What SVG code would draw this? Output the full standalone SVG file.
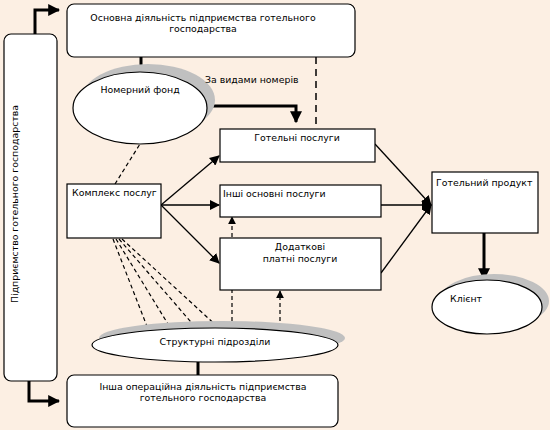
<svg xmlns="http://www.w3.org/2000/svg" width="550" height="430" viewBox="0 0 550 430">
<defs>
<marker id="ah" viewBox="0 0 10 10" refX="9" refY="5" markerWidth="10" markerHeight="10" markerUnits="userSpaceOnUse" orient="auto">
<path d="M0,0 L10,5 L0,10 z" fill="#000"/>
</marker>
<marker id="ahb" viewBox="0 0 10 10" refX="9" refY="5" markerWidth="12" markerHeight="12" markerUnits="userSpaceOnUse" orient="auto">
<path d="M0,0 L10,5 L0,10 z" fill="#000"/>
</marker>
<marker id="ahs" viewBox="0 0 10 10" refX="9" refY="5" markerWidth="8" markerHeight="9" markerUnits="userSpaceOnUse" orient="auto">
<path d="M0,0 L10,5 L0,10 z" fill="#000"/>
</marker>
</defs>
<style>
.box{fill:#fff;stroke:#000;stroke-width:1.2}
.sh{fill:#c0c0c0}
.t{font-family:"DejaVu Sans",Verdana,sans-serif;font-size:9.4px;fill:#000}
.c{text-anchor:middle}
.thin{stroke:#000;stroke-width:1.3;fill:none}
.thick{stroke:#000;stroke-width:3;fill:none}
.dash{stroke:#000;stroke-width:1.2;fill:none;stroke-dasharray:4,3}
.dashb{stroke:#000;stroke-width:1.5;fill:none;stroke-dasharray:7,5}
</style>
<rect x="0" y="0" width="550" height="430" fill="#fcefe3"/>

<g id="connectors">
<path class="thick" d="M35,34 V10 H59" marker-end="url(#ahb)"/>
<path class="thick" d="M29,381 V401 H59" marker-end="url(#ahb)"/>
<line class="thick" x1="141" y1="57" x2="141" y2="70"/>
<line class="dashb" x1="316" y1="57" x2="316" y2="129"/>
<path class="thick" d="M207,106 H296 V122" marker-end="url(#ahb)"/>
<line class="dash" x1="115" y1="184" x2="140" y2="144"/>
<line class="thin" x1="161" y1="205" x2="219" y2="156" marker-end="url(#ah)"/>
<line class="thin" x1="161" y1="205" x2="219" y2="205" marker-end="url(#ah)"/>
<line class="thin" x1="161" y1="205" x2="219" y2="263" marker-end="url(#ah)"/>
<line class="dash" x1="113" y1="239" x2="148" y2="329"/>
<line class="dash" x1="116" y1="239" x2="171" y2="329"/>
<line class="dash" x1="119" y1="239" x2="197" y2="329"/>
<line class="dash" x1="122" y1="239" x2="220" y2="329"/>
<line class="dash" x1="232" y1="328" x2="232" y2="217" marker-end="url(#ahs)"/>
<line class="dash" x1="280" y1="328" x2="280" y2="291" marker-end="url(#ahs)"/>
<line class="thick" x1="198" y1="362" x2="198" y2="375"/>
<line class="thin" x1="375" y1="144" x2="431" y2="205" marker-end="url(#ah)"/>
<line class="thin" x1="381" y1="205" x2="431" y2="205" marker-end="url(#ah)"/>
<line class="thin" x1="381" y1="273" x2="431" y2="205" marker-end="url(#ah)"/>
<line class="thick" x1="484" y1="233" x2="484" y2="279" marker-end="url(#ahb)"/>
</g>

<g id="n-main">
<rect class="box" x="67" y="4" width="288" height="53" rx="7"/>
<text class="t c" x="203" y="21">Основна діяльність підприємства готельного</text>
<text class="t c" x="203" y="32">господарства</text>
</g>

<g id="n-enterprise">
<rect class="box" x="4" y="34" width="53" height="347" rx="7"/>
<text class="t c" transform="translate(18,204) rotate(-90)">Підприємство готельного господарства</text>
</g>

<g id="n-rooms">
<ellipse class="sh" cx="148" cy="100" rx="67" ry="36"/>
<ellipse class="box" cx="140" cy="108" rx="67" ry="36"/>
<text class="t c" x="140" y="93">Номерний фонд</text>
</g>

<text class="t" x="205" y="83">За видами номерів</text>

<g id="n-hotel-services">
<rect class="box" x="220" y="129" width="155" height="33"/>
<text class="t c" x="297" y="141">Готельні послуги</text>
</g>

<g id="n-other-services">
<rect class="box" x="220" y="185" width="161" height="32"/>
<text class="t" x="223" y="197">Інші основні послуги</text>
</g>

<g id="n-extra-services">
<rect class="box" x="220" y="238" width="161" height="52"/>
<text class="t c" x="300" y="250">Додаткові</text>
<text class="t c" x="300" y="262">платні послуги</text>
</g>

<g id="n-complex">
<rect class="box" x="67" y="184" width="94" height="54"/>
<text class="t" x="72" y="196">Комплекс послуг</text>
</g>

<g id="n-product">
<rect class="box" x="432" y="172" width="106" height="61"/>
<text class="t" x="436" y="186">Готельний продукт</text>
</g>

<g id="n-client">
<ellipse class="sh" cx="494" cy="301" rx="55" ry="27"/>
<ellipse class="box" cx="487" cy="307" rx="55" ry="27"/>
<text class="t" x="450" y="302">Клієнт</text>
</g>

<g id="n-units">
<ellipse class="sh" cx="222" cy="338" rx="123" ry="17"/>
<ellipse class="box" cx="215" cy="345" rx="123" ry="17"/>
<text class="t c" x="215" y="345">Структурні підрозділи</text>
</g>

<g id="n-other-ops">
<rect class="box" x="67" y="375" width="271" height="52" rx="7"/>
<text class="t c" x="203" y="390">Інша операційна діяльність підприємства</text>
<text class="t c" x="203" y="401">готельного господарства</text>
</g>
</svg>
